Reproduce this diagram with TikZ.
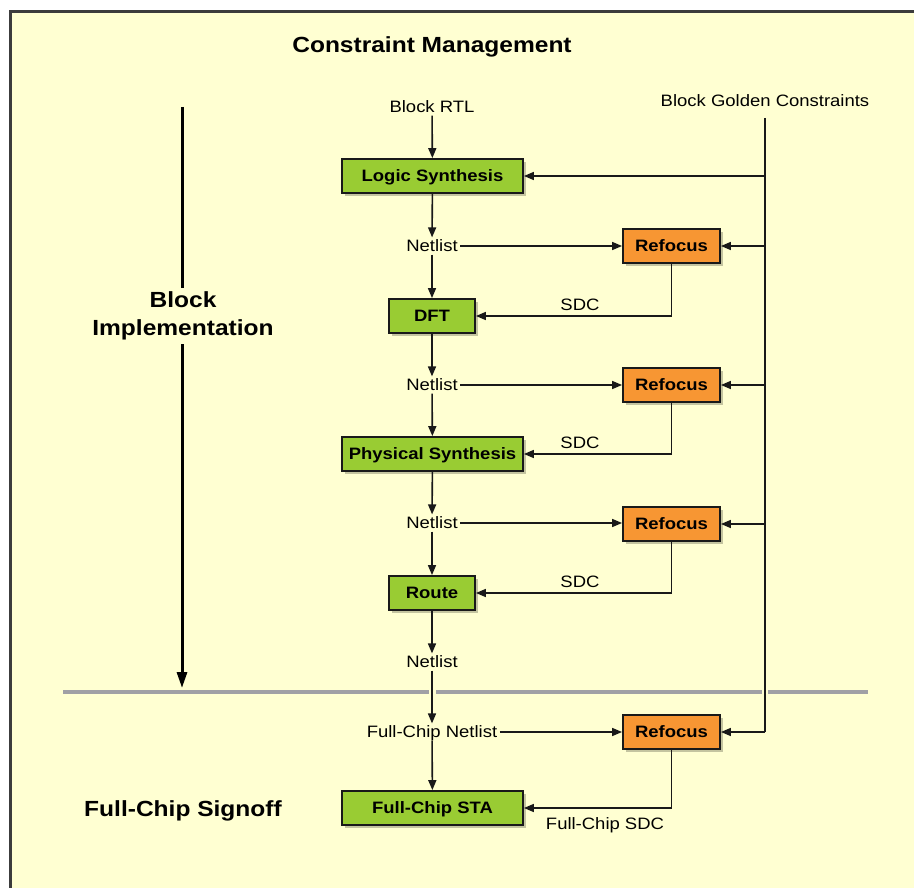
\documentclass[tikz,border=0pt]{standalone}
\usepackage{fontspec}
\setmainfont[FakeStretch=1.12]{Liberation Sans}
\usetikzlibrary{arrows.meta,shadows}
\definecolor{bg}{RGB}{255,255,210}
\definecolor{boxgreen}{RGB}{153,204,51}
\definecolor{boxorange}{RGB}{247,150,51}
\definecolor{shadowc}{RGB}{196,196,160}
\definecolor{linec}{RGB}{25,25,25}
\definecolor{framec}{RGB}{60,60,60}
\definecolor{sepgray}{RGB}{160,160,165}
\begin{document}
\begin{tikzpicture}[x=1pt,y=-1pt,
  lbl/.style={font=\fontsize{16.5}{18}\selectfont, inner sep=2.5pt, text=black, text height=11.8pt, text depth=0pt},
  head/.style={font=\fontsize{21.9}{28}\selectfont\bfseries, align=center, text=black},
  boxbase/.style={draw=linec, line width=1.8pt, font=\fontsize{16.5}{18}\selectfont\bfseries,
    minimum height=34pt, inner sep=0pt, text height=11.8pt, text depth=0pt,
    drop shadow={shadow xshift=3pt, shadow yshift=-3pt, fill=shadowc, opacity=1}},
  gbox/.style={boxbase, fill=boxgreen},
  obox/.style={boxbase, fill=boxorange, minimum width=97pt},
  wide/.style={minimum width=181pt},
  narrow/.style={minimum width=86pt},
  conn/.style={draw=linec, line width=1.6pt},
  arr/.style={conn, -{Triangle[length=10pt,width=8pt]}},
  bigarr/.style={draw=black, line width=3pt, -{Triangle[length=16pt,width=10pt]}},
  sep/.style={draw=sepgray, line width=4pt}
]
\useasboundingbox (0,0) rectangle (914,888);
\clip (0,0) rectangle (914,888);
\fill[white] (0,0) rectangle (914,888);
\draw[fill=bg, draw=framec, line width=3pt] (10.5,11.5) rectangle (930,905);

% separator
\draw[sep] (63,692) -- (429,692);
\draw[sep] (436,692) -- (762,692);
\draw[sep] (768,692) -- (868,692);

% headings
\node[head] (title) at (432,47) {Constraint Management};
\node[head] (fcs) at (183,811) {Full-Chip Signoff};
\coordinate (bt) at (182,107);
\coordinate (bb) at (182,688);
\draw[bigarr] (bt) -- (bb);
\node[head, fill=bg, inner sep=4pt] (bi) at (183,316) {Block\\Implementation};

% nodes
\node[lbl] (rtl) at (432,107) {Block RTL};
\node[lbl] (bgc) at (765,101) {Block Golden Constraints};
\coordinate (vtop) at (765,118);
\node[gbox, wide] (ls) at (432.5,176) {Logic Synthesis};
\node[lbl] (n1) at (432,246) {Netlist};
\node[obox] (r1) at (671.5,246) {Refocus};
\node[gbox, narrow] (dft) at (432,316) {DFT};
\node[lbl] (s1) at (580,305) {SDC};
\node[lbl] (n2) at (432,385) {Netlist};
\node[obox] (r2) at (671.5,385) {Refocus};
\node[gbox, wide] (ps) at (432.5,454) {Physical Synthesis};
\node[lbl] (s2) at (580,443) {SDC};
\node[lbl] (n3) at (432,523) {Netlist};
\node[obox] (r3) at (671.5,524) {Refocus};
\node[gbox, narrow] (rt) at (432,593) {Route};
\node[lbl] (s3) at (580,582) {SDC};
\node[lbl] (n4) at (432,662) {Netlist};
\node[lbl] (fn) at (432,732) {Full-Chip Netlist};
\node[obox] (r4) at (671.5,732) {Refocus};
\node[gbox, wide] (sta) at (432.5,808) {Full-Chip STA};
\node[lbl] (s4) at (605,824) {Full-Chip SDC};

% main flow
\draw[arr] (rtl) -- (ls);
\draw[arr] (ls) -- (n1);
\draw[arr] (n1) -- (dft);
\draw[arr] (dft) -- (n2);
\draw[arr] (n2) -- (ps);
\draw[arr] (ps) -- (n3);
\draw[arr] (n3) -- (rt);
\draw[arr] (rt) -- (n4);
\draw[arr] (n4) -- (fn);
\draw[arr] (fn) -- (sta);

% to refocus
\draw[arr] (n1) -- (r1);
\draw[arr] (n2) -- (r2);
\draw[arr] (n3.east) -- (r3.west |- n3.east);
\draw[arr] (fn) -- (r4);

% back SDC
\draw[arr] (r1.south) |- (dft.east);
\draw[arr] (r2.south) |- (ps.east);
\draw[arr] (r3.south) |- (rt.east);
\draw[arr] (r4.south) |- (sta.east);

% golden constraints bus
\draw[conn] (vtop) -- (vtop |- r4);
\draw[arr] (vtop |- ls) -- (ls);
\draw[arr] (vtop |- r1) -- (r1);
\draw[arr] (vtop |- r2) -- (r2);
\draw[arr] (vtop |- r3) -- (r3);
\draw[arr] (vtop |- r4) -- (r4);
\end{tikzpicture}
\end{document}
